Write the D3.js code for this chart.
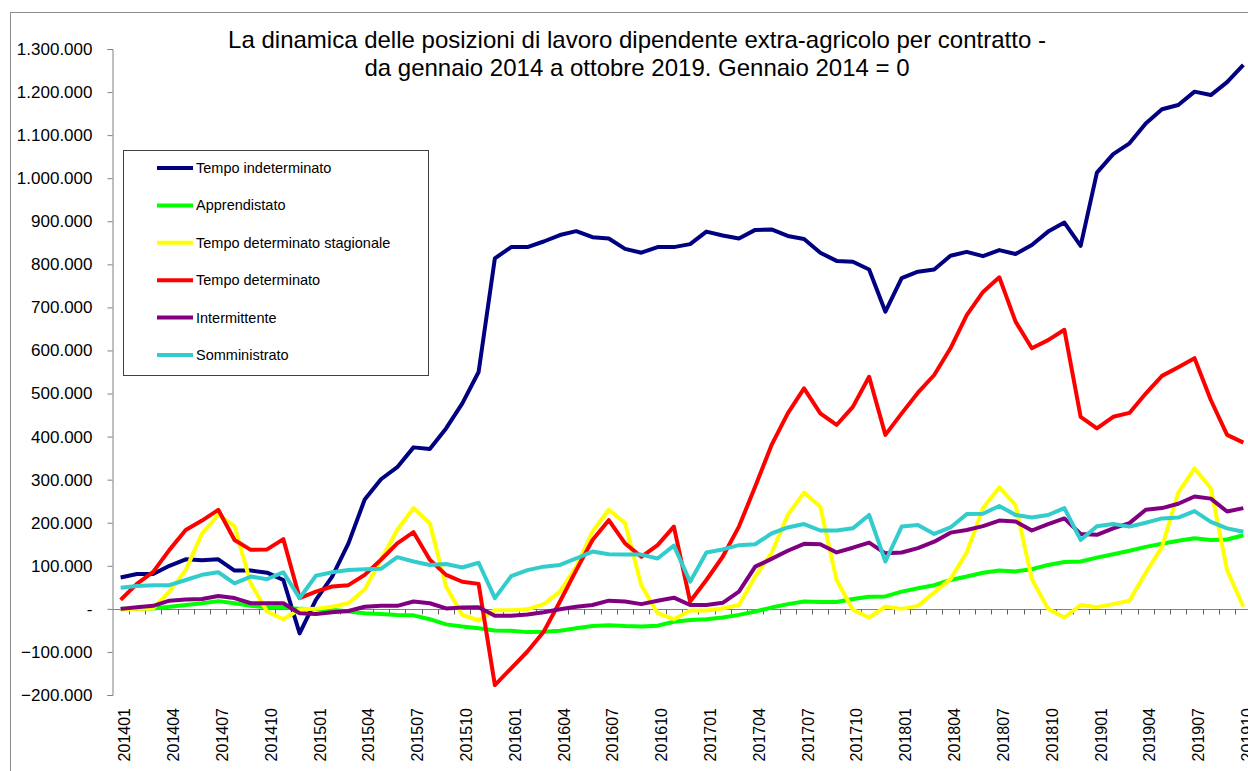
<!DOCTYPE html>
<html>
<head>
<meta charset="utf-8">
<script src="https://cdn.jsdelivr.net/npm/d3@7"></script>
<style>
  body { margin: 0; background: #fff; }
  text { font-family: Arial, "Liberation Sans", sans-serif; fill: #000; }
</style>
</head>
<body>
<div id="chart"></div>
<script>
var w = 1248, h = 771;

// Months 201401 .. 201910
var months = [
  "201401","201402","201403","201404","201405","201406","201407","201408","201409","201410","201411","201412",
  "201501","201502","201503","201504","201505","201506","201507","201508","201509","201510","201511","201512",
  "201601","201602","201603","201604","201605","201606","201607","201608","201609","201610","201611","201612",
  "201701","201702","201703","201704","201705","201706","201707","201708","201709","201710","201711","201712",
  "201801","201802","201803","201804","201805","201806","201807","201808","201809","201810","201811","201812",
  "201901","201902","201903","201904","201905","201906","201907","201908","201909","201910"
];

// Values in thousands (Gennaio 2014 = 0)
var indeterminato = [73,81,81,100,115,113,115,89,89,84,67,-57,21,75,152,254,301,329,375,371,
  419,477,550,814,840,840,853,868,877,863,860,836,827,840,840,847,876,867,860,880,
  881,866,859,827,808,806,788,690,768,783,788,820,829,819,833,824,845,876,897,843,
  1013,1056,1081,1127,1160,1170,1201,1193,1223,1263];
var apprendistato = [0,0,1,5,9,13,18,13,7,4,4,0,-1,-2,-6,-10,-12,-14,-15,-24,
  -36,-41,-45,-50,-51,-54,-53,-51,-45,-40,-38,-40,-41,-39,-30,-26,-24,-20,-14,-6,
  3,11,17,16,16,23,28,29,40,48,55,67,75,84,89,87,92,102,109,110,
  119,127,135,144,151,158,164,160,161,171];
var stagionale = [-2,0,1,40,90,175,218,192,59,-6,-24,-1,0,5,13,45,114,183,234,199,
  52,-14,-27,-3,-3,-1,11,40,98,179,230,199,55,-10,-24,-4,-4,1,9,75,
  129,218,270,237,67,-2,-20,5,0,7,38,69,131,234,282,241,69,0,-20,9,
  4,11,19,84,144,270,326,280,90,5];
var determinato = [21,58,86,137,183,205,230,160,137,138,162,25,40,52,55,79,114,152,178,114,
  79,63,58,-177,-138,-99,-53,17,90,160,206,152,121,148,191,17,67,121,191,284,
  380,454,512,454,427,469,539,404,454,502,543,605,682,736,770,667,605,624,648,446,
  419,446,455,500,541,561,582,485,404,386];
var intermittente = [0,4,7,19,22,23,30,25,13,13,13,-10,-12,-8,-5,5,7,7,17,13,
  1,3,4,-16,-16,-13,-8,-1,5,9,19,17,11,19,26,9,9,14,40,98,
  116,135,151,150,131,142,154,129,131,141,156,177,183,192,205,203,182,197,210,174,
  172,187,199,230,234,244,261,256,226,234];
var somministrato = [49,53,55,55,67,79,85,59,75,69,85,25,77,85,90,92,93,120,110,102,
  104,96,107,25,76,90,98,102,117,133,127,126,126,117,147,63,131,138,148,150,
  175,189,197,182,182,187,218,110,191,195,174,189,220,221,239,218,212,218,234,160,
  192,197,191,200,210,212,227,202,187,179];

var seriesNames = ["Tempo indeterminato", "Apprendistato", "Tempo determinato stagionale",
  "Tempo determinato", "Intermittente", "Somministrato"];
var seriesColors = ["#000080", "#00ff00", "#ffff00", "#ff0000", "#800080", "#33cccc"];
var seriesValues = [indeterminato, apprendistato, stagionale, determinato, intermittente, somministrato];

var yTicks = d3.range(-200, 1301, 100);
var xLabelMonths = months.filter(function(d, i) { return i % 3 === 0; });

var titleLines = [
  "La dinamica delle posizioni di lavoro dipendente extra-agricolo per contratto -",
  "da gennaio 2014 a ottobre 2019. Gennaio 2014 = 0"
];

var svg = d3.select("#chart").append("svg")
  .attr("width", w)
  .attr("height", h);

// outer frame
svg.append("rect")
  .attr("x", 10.5).attr("y", 12.5)
  .attr("width", 1260).attr("height", 800)
  .attr("fill", "none").attr("stroke", "#8c8c8c");

var x = d3.scaleBand()
  .domain(months)
  .range([112.5, 1251.5]);

var y = d3.scaleLinear()
  .domain([-200, 1300])
  .range([695, 49]);

function fmt(v) {
  if (v === 0) return "-  ";
  return d3.format(",")(v * 1000).replace(/,/g, ".");
}

// Y axis
var yAxis = svg.append("g")
  .attr("transform", "translate(112.5,0)")
  .call(d3.axisLeft(y).tickValues(yTicks).tickSize(5).tickPadding(15).tickFormat(fmt));
yAxis.selectAll("path, line").attr("stroke", "#808080");
yAxis.selectAll("text").attr("font-size", "17px").attr("font-family", "Arial, 'Liberation Sans', sans-serif");

// X axis at zero
var zeroY = Math.round(y(0)) + 0.5;
svg.append("line")
  .attr("x1", x.range()[0]).attr("x2", w)
  .attr("y1", zeroY).attr("y2", zeroY)
  .attr("stroke", "#808080");

svg.append("g").selectAll("line")
  .data(months.slice(1))
  .enter().append("line")
  .attr("x1", function(d) { return Math.round(x(d)) + 0.5; })
  .attr("x2", function(d) { return Math.round(x(d)) + 0.5; })
  .attr("y1", zeroY).attr("y2", zeroY + 5)
  .attr("stroke", "#606060");

// X labels (every 3 months), rotated
svg.append("g").selectAll("text")
  .data(xLabelMonths)
  .enter().append("text")
  .attr("transform", function(d) {
    return "translate(" + (x(d) + x.bandwidth() / 2 + 4) + ",708) rotate(-90)";
  })
  .attr("text-anchor", "end")
  .attr("dy", "0.35em")
  .attr("font-size", "16px")
  .text(function(d) { return d; });

// Lines
var line = d3.line()
  .x(function(d, i) { return x(months[i]) + x.bandwidth() / 2; })
  .y(function(d) { return y(d); });

svg.append("g").selectAll("path")
  .data(seriesValues)
  .enter().append("path")
  .attr("d", line)
  .attr("fill", "none")
  .attr("stroke", function(d, i) { return seriesColors[i]; })
  .attr("stroke-width", 4)
  .attr("stroke-linejoin", "round");

// Title
svg.append("g").selectAll("text")
  .data(titleLines)
  .enter().append("text")
  .attr("x", 637)
  .attr("y", function(d, i) { return 48 + i * 28; })
  .attr("text-anchor", "middle")
  .attr("font-size", "24px")
  .text(function(d) { return d; });

// Legend
var legend = svg.append("g");
legend.append("rect")
  .attr("x", 123.5).attr("y", 150.5)
  .attr("width", 305).attr("height", 225)
  .attr("fill", "#fff").attr("stroke", "#404040");

var rows = legend.selectAll("g")
  .data(seriesNames)
  .enter().append("g")
  .attr("transform", function(d, i) { return "translate(0," + (168 + i * 37.4) + ")"; });

rows.append("line")
  .attr("x1", 157).attr("x2", 193)
  .attr("stroke", function(d, i) { return seriesColors[i]; })
  .attr("stroke-width", 4);

rows.append("text")
  .attr("x", 196)
  .attr("dy", "0.35em")
  .attr("font-size", "14.5px")
  .text(function(d) { return d; });
</script>
</body>
</html>
